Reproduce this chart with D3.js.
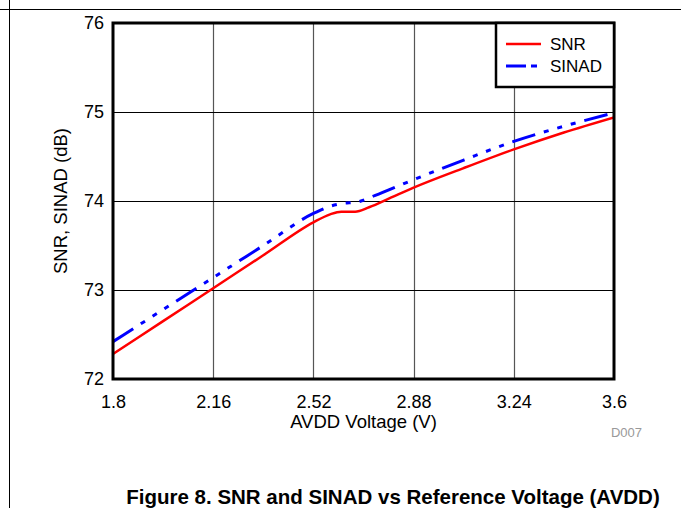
<!DOCTYPE html>
<html>
<head>
<meta charset="utf-8">
<script src="https://cdn.jsdelivr.net/npm/d3@7"></script>
<style>
  html, body { margin: 0; padding: 0; background: #fff; }
  svg { display: block; font-family: "Liberation Sans", Arial, sans-serif; }
</style>
</head>
<body>
<svg id="chart" width="681" height="508"></svg>
<script>
// ---- data ----
const voltage = [1.8, 1.98, 2.16, 2.34, 2.52, 2.58, 2.62, 2.67, 2.72, 2.80, 2.88, 3.06, 3.24, 3.42, 3.6];
const snr     = [72.28, 72.65, 73.02, 73.39, 73.76, 73.85, 73.88, 73.88, 73.93, 74.04, 74.15, 74.37, 74.58, 74.77, 74.94];
const sinadV  = [1.8, 1.98, 2.16, 2.34, 2.52, 2.58, 2.62, 2.68, 2.74, 2.88, 3.06, 3.24, 3.42, 3.6];
const sinad   = [72.42, 72.78, 73.14, 73.50, 73.86, 73.94, 73.97, 73.99, 74.06, 74.24, 74.46, 74.67, 74.84, 74.99];
const xTicks = [1.8, 2.16, 2.52, 2.88, 3.24, 3.6];
const xTickLabels = ["1.8", "2.16", "2.52", "2.88", "3.24", "3.6"];
const yTicks = [72, 73, 74, 75, 76];
const seriesNames = ["SNR", "SINAD"];
const xTitle = "AVDD Voltage (V)";
const yTitle = "SNR, SINAD (dB)";
const caption = "Figure 8. SNR and SINAD vs Reference Voltage (AVDD)";
const tag = "D007";

// ---- layout ----
const svg = d3.select("#chart");
const L = 113, R = 614, T = 23, B = 379;
const x = d3.scaleLinear().domain([1.8, 3.6]).range([L, R]);
const y = d3.scaleLinear().domain([72, 76]).range([B, T]);

// page frame lines
svg.append("line").attr("x1", 9.5).attr("x2", 9.5).attr("y1", 0).attr("y2", 508)
  .attr("stroke", "#000").attr("stroke-width", 1);
svg.append("line").attr("x1", 0).attr("x2", 681).attr("y1", 9.5).attr("y2", 9.5)
  .attr("stroke", "#000").attr("stroke-width", 1);

// grid
const g = svg.append("g");
g.selectAll("line.vg").data(xTicks.slice(1, -1)).enter().append("line")
  .attr("x1", d => Math.round(x(d)) + 0.5).attr("x2", d => Math.round(x(d)) + 0.5)
  .attr("y1", T).attr("y2", B).attr("stroke", "#555").attr("stroke-width", 1.2);
g.selectAll("line.hg").data(yTicks.slice(1, -1)).enter().append("line")
  .attr("y1", d => Math.round(y(d)) + 0.5).attr("y2", d => Math.round(y(d)) + 0.5)
  .attr("x1", L).attr("x2", R).attr("stroke", "#000").attr("stroke-width", 1);

// axes (labels only; frame drawn separately)
const xAxis = d3.axisBottom(x).tickValues(xTicks).tickSize(0).tickPadding(16)
  .tickFormat((d, i) => xTickLabels[i]);
const gx = svg.append("g").attr("transform", `translate(0,${B})`).call(xAxis);
gx.select(".domain").remove();
gx.selectAll("text").attr("font-size", 18).attr("fill", "#000")
  .attr("font-family", "Liberation Sans, Arial, sans-serif");

const yAxis = d3.axisLeft(y).tickValues(yTicks).tickSize(0).tickPadding(9)
  .tickFormat(d3.format("d"));
const gy = svg.append("g").attr("transform", `translate(${L},0)`).call(yAxis);
gy.select(".domain").remove();
gy.selectAll("text").attr("font-size", 18).attr("fill", "#000")
  .attr("font-family", "Liberation Sans, Arial, sans-serif");

// lines
const lineGen = d3.line().curve(d3.curveMonotoneX);
const snrPts = voltage.map((v, i) => [x(v), y(snr[i])]);
const sinadPts = sinadV.map((v, i) => [x(v), y(sinad[i])]);
svg.append("clipPath").attr("id", "pc").append("rect")
  .attr("x", L).attr("y", T).attr("width", R - L).attr("height", B - T);
svg.append("path").attr("d", lineGen(snrPts)).attr("fill", "none")
  .attr("stroke", "#ff0000").attr("stroke-width", 2.5).attr("clip-path", "url(#pc)");
svg.append("path").attr("d", lineGen(sinadPts)).attr("fill", "none")
  .attr("stroke", "#0000ff").attr("stroke-width", 3)
  .attr("stroke-dasharray", "24,9,5,9,5,9,5,9").attr("clip-path", "url(#pc)");

// frame
svg.append("rect").attr("x", L).attr("y", T).attr("width", R - L).attr("height", B - T)
  .attr("fill", "none").attr("stroke", "#000").attr("stroke-width", 3);

// legend
const lg = svg.append("g");
lg.append("rect").attr("x", 496).attr("y", T).attr("width", R - 496).attr("height", 64)
  .attr("fill", "#fff").attr("stroke", "#000").attr("stroke-width", 2.5);
const legY = [44, 66];
const legColors = ["#ff0000", "#0000ff"];
const legDash = [null, "20,5,6,4"];
seriesNames.forEach((name, i) => {
  const ln = lg.append("line").attr("x1", 506).attr("x2", 541)
    .attr("y1", legY[i]).attr("y2", legY[i])
    .attr("stroke", legColors[i]).attr("stroke-width", i ? 3 : 2.5);
  if (legDash[i]) ln.attr("stroke-dasharray", legDash[i]);
  lg.append("text").attr("x", 550).attr("y", legY[i] + 6).attr("font-size", 17)
    .attr("fill", "#000").text(name);
});

// titles
svg.append("text").attr("x", (L + R) / 2).attr("y", 428).attr("text-anchor", "middle")
  .attr("font-size", 18.5).attr("fill", "#000").text(xTitle);
svg.append("text").attr("transform", `translate(67,${(T + B) / 2}) rotate(-90)`)
  .attr("text-anchor", "middle").attr("font-size", 18.5).attr("fill", "#000").text(yTitle);
svg.append("text").attr("x", 642).attr("y", 437).attr("text-anchor", "end")
  .attr("font-size", 13).attr("fill", "#999").text(tag);
svg.append("text").attr("x", 393).attr("y", 504).attr("text-anchor", "middle")
  .attr("font-size", 20.5).attr("font-weight", "bold").attr("fill", "#000").text(caption);
</script>
</body>
</html>
